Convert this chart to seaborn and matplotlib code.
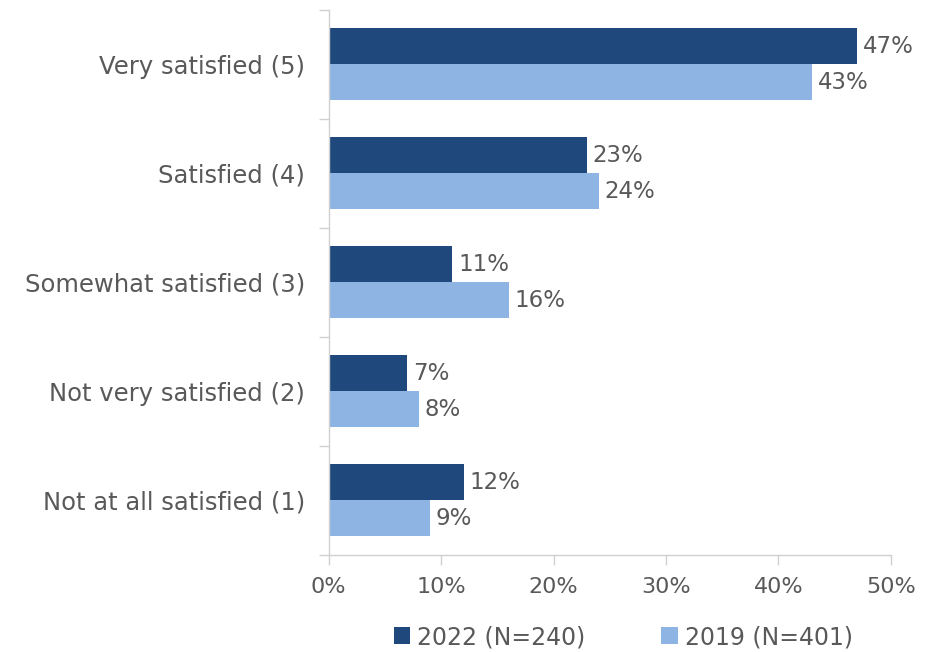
import matplotlib
matplotlib.use("Agg")

import pandas as pd
import matplotlib.pyplot as plt
import seaborn as sns
from matplotlib.ticker import FixedLocator, PercentFormatter

categorias = ["Very satisfied (5)", "Satisfied (4)", "Somewhat satisfied (3)",
              "Not very satisfied (2)", "Not at all satisfied (1)"]
series = ["2022 (N=240)", "2019 (N=401)"]
valores_2022 = [47, 23, 11, 7, 12]
valores_2019 = [43, 24, 16, 8, 9]
cores = ["#1F497D", "#8EB4E3"]
cinza = "#595959"

df = pd.DataFrame({
    "categoria": categorias * 2,
    "serie": [series[0]] * len(categorias) + [series[1]] * len(categorias),
    "valor": valores_2022 + valores_2019,
})

sns.set_theme(style="white")
plt.rcParams["font.family"] = ["DejaVu Sans"]

fig = plt.figure(figsize=(9.26, 6.52), dpi=100)
ax = fig.add_axes([0.355, 0.149, 0.607, 0.836])

sns.barplot(
    data=df, y="categoria", x="valor", hue="serie",
    order=categorias, hue_order=series, palette=cores,
    width=0.66, orient="h", ax=ax, saturation=1, legend=True, linewidth=0
)

# rótulos de porcentagem ao lado das barras
for cont in ax.containers:
    ax.bar_label(cont, labels=[f"{v:.0f}%" for v in cont.datavalues],
                 padding=4, color=cinza, fontsize=16.5)

ax.set_xlim(0, 50)
ax.set_ylim(4.5, -0.5)
ax.xaxis.set_major_locator(FixedLocator([0, 10, 20, 30, 40, 50]))
ax.xaxis.set_major_formatter(PercentFormatter(decimals=0))
ax.set_xlabel("")
ax.set_ylabel("")

ax.yaxis.set_minor_locator(FixedLocator([i - 0.5 for i in range(len(categorias) + 1)]))
ax.tick_params(axis="y", which="major", length=0, pad=17, labelsize=17.5, labelcolor=cinza)
ax.tick_params(axis="y", which="minor", left=True, length=7, width=1, color="#D0D0D0")
ax.tick_params(axis="x", which="major", bottom=True, length=7, width=1, color="#D0D0D0",
               pad=9, labelsize=16, labelcolor=cinza)

for lado in ["top", "right"]:
    ax.spines[lado].set_visible(False)
for lado in ["left", "bottom"]:
    ax.spines[lado].set_color("#D0D0D0")
    ax.spines[lado].set_linewidth(1)

handles, labels = ax.get_legend_handles_labels()
ax.get_legend().remove()
fig.legend(handles, labels, loc="lower center", bbox_to_anchor=(0.673, -0.028), ncol=2,
           frameon=False, fontsize=17, labelcolor=cinza, handlelength=0.7,
           handleheight=0.7, handletextpad=0.3, columnspacing=3.2)

fig.savefig("out.png", dpi=100)
